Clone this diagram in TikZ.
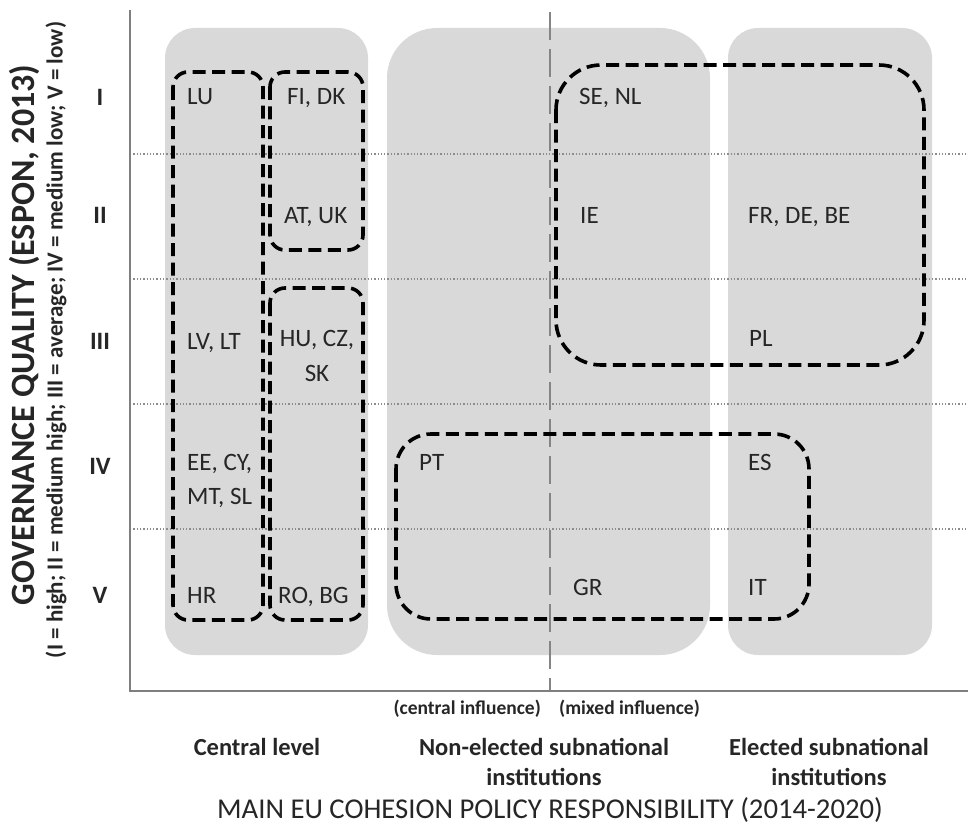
\documentclass[tikz,border=0pt]{standalone}
\usepackage{fontspec}
\setmainfont{Carlito}
\definecolor{bandgray}{HTML}{D9D9D9}
\definecolor{gridgray}{HTML}{8C8C8C}
\definecolor{axisgray}{HTML}{7F7F7F}
\definecolor{midgray}{HTML}{858585}
\definecolor{txt}{HTML}{262626}
\begin{document}
\begin{tikzpicture}[x=1pt,y=-1pt,
  band/.style={fill=bandgray, draw=none},
  grp/.style={draw=black, line width=3.6pt, dash pattern=on 13pt off 6.5pt},
  cty/.style={font=\fontsize{25}{30}\selectfont, inner sep=0pt, anchor=base west, text=txt},
  lvl/.style={font=\bfseries\fontsize{25}{30}\selectfont, inner sep=0pt, text=txt},
  cat/.style={font=\bfseries\fontsize{24.5}{30}\selectfont, align=center, inner sep=0pt, text=txt},
  infl/.style={font=\bfseries\fontsize{19.5}{24}\selectfont, inner sep=0pt, text=txt},
  gridline/.style={draw=gridgray, line width=1.3pt, dash pattern=on 1.3pt off 2pt},
  midline/.style={draw=midgray, line width=2.6pt, dash pattern=on 28pt off 9pt},
  axis/.style={draw=axisgray, line width=1.6pt},
]
\useasboundingbox (0,0) rectangle (968,824);

% grey bands
\fill[band, rounded corners=30pt] (165,28) rectangle (368,655);
\fill[band, rounded corners=50pt] (387,28) rectangle (710,655);
\fill[band, rounded corners=30pt] (728,28) rectangle (932,655);

% dotted grid lines
\foreach \yy in {154,279,404,529} {
  \draw[gridline] (130,\yy) -- (968,\yy);
}

% middle dashed divider
\coordinate (vtop) at (550,12);
\coordinate (vbot) at (550,691);
\draw[midline] (vtop) -- (vbot);

% dashed groups
\draw[grp, rounded corners=15pt] (173,72) rectangle (263,620);
\draw[grp, rounded corners=15pt] (270,72) rectangle (363,250);
\draw[grp, rounded corners=15pt] (270,288) rectangle (363,620);
\draw[grp, rounded corners=45pt] (556,65) rectangle (924,365);
\draw[grp, rounded corners=35pt] (396,434) rectangle (809,619);

% axes
\coordinate (O) at (130,691);
\coordinate (ytop) at (130,10);
\coordinate (xend) at (968,691);
\draw[axis] (ytop) -- (O) -- (xend);

% country labels
\node[cty] (lu) at (187,105) {LU};
\node[cty] (fidk) at (287,105) {FI, DK};
\node[cty] (atuk) at (284,223) {AT, UK};
\node[cty] (lvlt) at (187,349) {LV, LT};
\node[cty, anchor=center, align=center, font=\fontsize{25}{35}\selectfont] (huczsk) at (317,356) {HU, CZ,\\SK};
\node[cty, anchor=west, align=left, font=\fontsize{25}{34}\selectfont] (eecy) at (187,481) {EE, CY,\\MT, SL};
\node[cty] (hr) at (187,603) {HR};
\node[cty] (robg) at (278,603) {RO, BG};
\node[cty] (senl) at (579,105) {SE, NL};
\node[cty] (ie) at (580,223) {IE};
\node[cty] (frdebe) at (748,223) {FR, DE, BE};
\node[cty] (pl) at (749,346) {PL};
\node[cty] (pt) at (419,470) {PT};
\node[cty] (es) at (748,470) {ES};
\node[cty] (gr) at (573,595) {GR};
\node[cty] (it) at (748,595) {IT};

% roman numerals
\node[lvl] (r1) at (100,97) {I};
\node[lvl] (r2) at (100,215) {II};
\node[lvl] (r3) at (100,341) {III};
\node[lvl] (r4) at (100,466) {IV};
\node[lvl] (r5) at (100,595) {V};

% y axis titles
\node[rotate=90, inner sep=0pt, text=txt, font=\bfseries\fontsize{34}{40}\selectfont] (ytitle) at (24,335) {GOVERNANCE QUALITY (ESPON, 2013)};
\node[rotate=90, inner sep=0pt, text=txt, font=\bfseries\fontsize{23}{28}\selectfont] (ysub) at (56,340) {(I = high; II = medium high; III = average; IV = medium low; V = low)};

% x axis labels
\node[infl, anchor=east] (cinf) at (541,709) {(central influence)};
\node[infl, anchor=west] (minf) at (559,709) {(mixed influence)};
\node[cat] (central) at (257,747) {Central level};
\node[cat] (nonel) at (544,762) {Non-elected subnational\\institutions};
\node[cat] (elect) at (829,762) {Elected subnational\\institutions};
\node[inner sep=0pt, text=txt, font=\fontsize{28.7}{34}\selectfont] (xtitle) at (550,810) {MAIN EU COHESION POLICY RESPONSIBILITY (2014-2020)};
\end{tikzpicture}
\end{document}
